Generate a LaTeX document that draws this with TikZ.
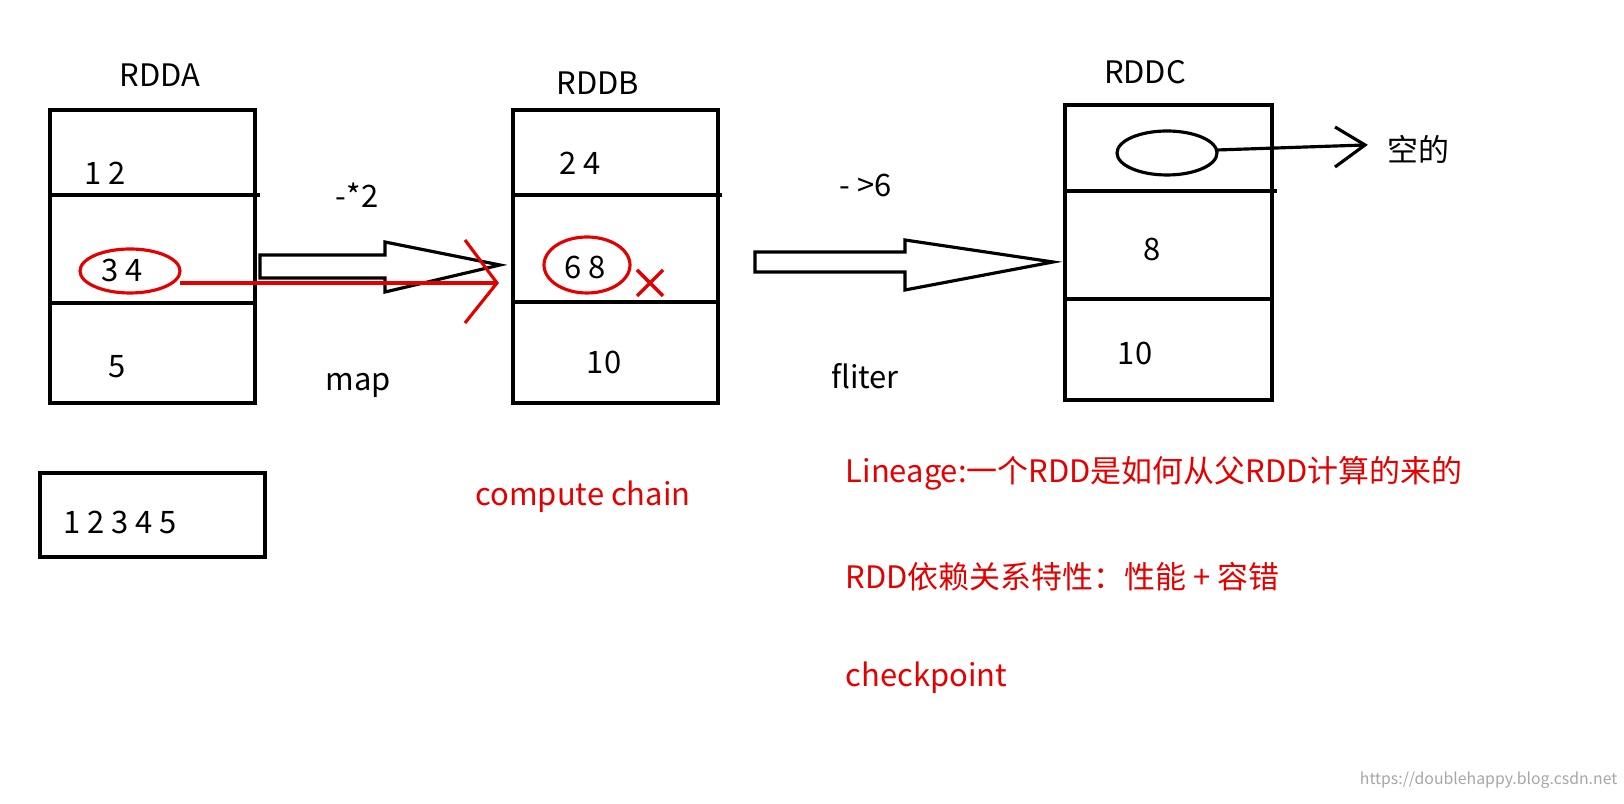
\documentclass[tikz,border=0pt]{standalone}
\usepackage{fontspec}
\setmainfont{Noto Sans CJK SC}
\begin{document}
\begin{tikzpicture}[x=0.01cm,y=-0.01cm,
  blk/.style={draw=black,line width=0.9pt},
  red/.style={draw=red!90!black,line width=0.9pt},
  lbl/.style={font=\fontsize{8.8}{10}\selectfont,inner sep=0pt},
  rlbl/.style={lbl,text=red!90!black,anchor=west}]
\useasboundingbox (0,0) rectangle (1624,804);
% RDDA
\node[lbl] (la) at (160,75) {RDDA};
\draw[blk] (50,110) rectangle (255,403);
\draw[blk] (50,195) -- (260,195);
\draw[blk] (50,303) -- (255,303);
\node[lbl] (a1) at (105,173) {1 2};
\node[lbl] (a2) at (122,270) {3 4};
\node[lbl] (a3) at (117,367) {5};
\draw[red] (130,271) ellipse (50 and 22);
\draw[blk] (40,473) rectangle (265,557);
\node[lbl] (all) at (120,522) {1 2 3 4 5};
% RDDB
\node[lbl] (lb) at (598,83) {RDDB};
\draw[blk] (513,110) rectangle (718,403);
\draw[blk] (513,195) -- (722,195);
\draw[blk] (513,302) -- (718,302);
\node[lbl] (b1) at (580,163) {2 4};
\node[lbl] (b2) at (585,267) {6 8};
\node[lbl] (b3) at (604,362) {10};
\draw[red] (587,265) ellipse (43 and 28);
\draw[red,line width=1pt] (637,270) -- (663,296) (637,296) -- (663,270);
% hollow arrows
\draw[blk] (260,255) -- (385,255) -- (385,242) -- (500,265) -- (385,292) -- (385,278) -- (260,278) -- cycle;
\draw[blk] (755,252) -- (905,252) -- (905,240) -- (1053,262) -- (905,290) -- (905,272) -- (755,272) -- cycle;
% red line
\draw[red] (180,283) -- (497,283);
\draw[red] (465,240) -- (497,283) -- (465,323);
\node[lbl] (op1) at (357,195) {-*2};
\node[lbl] (map) at (358,385) {map};
\node[lbl] (op2) at (866,185) {- >6};
\node[lbl] (fl) at (865,376) {fliter};
% RDDC
\node[lbl] (lc) at (1145,72) {RDDC};
\draw[blk] (1065,105) rectangle (1272,400);
\draw[blk] (1065,191) -- (1277,191);
\draw[blk] (1065,299) -- (1272,299);
\draw[blk] (1167,153) ellipse (50 and 22);
\coordinate (e) at (1217,150);
\coordinate (t) at (1365,145);
\draw[blk] (e) -- (t);
\draw[blk] (1335,127) -- (t) -- (1335,167);
\node[lbl] (empty) at (1418,149) {空的};
\node[lbl] (c1) at (1152,249) {8};
\node[lbl] (c2) at (1135,353) {10};
% red notes
\node[lbl,text=red!90!black] (cc) at (583,497) {compute chain};
\node[rlbl] (n1) at (845,473) {Lineage:一个RDD是如何从父RDD计算的来的};
\node[rlbl] (n2) at (845,577) {RDD依赖关系特性：性能 + 容错};
\node[rlbl] (n3) at (845,678) {checkpoint};
\node[lbl,text=gray!70,font=\fontsize{4.5}{5}\selectfont,anchor=east] (wm) at (1618,780) {https://doublehappy.blog.csdn.net};
\end{tikzpicture}
\end{document}
